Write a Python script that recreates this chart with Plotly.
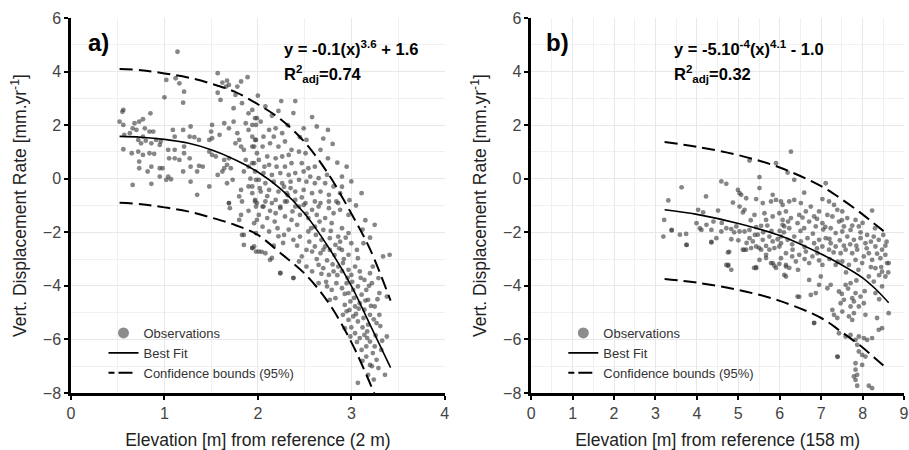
import plotly.graph_objects as go

# ---------------- data: panel a ----------------
obs_a_pts = [
    (1.14, 4.74), (1.57, 3.94), (1.67, 3.66), (1.62, 3.59), (1.69, 3.5), (1.78, 3.44), (1.89, 3.79), (1.82, 3.63), (1.66, 3.44),
    (1.02, 3.69), (1.12, 3.75), (1.16, 3.56), (1.21, 3.25), (1.0, 3.04), (1.2, 2.84),
    (1.57, 3.21), (1.6, 2.94), (1.76, 3.13), (1.83, 2.82), (1.94, 2.57), (1.74, 2.63),
    (0.56, 2.57), (0.55, 2.5), (0.85, 2.44), (0.52, 2.13), (0.56, 2.01), (0.68, 2.07), (0.77, 2.22), (0.73, 2.13),
    (0.66, 1.88), (0.7, 1.82), (0.79, 1.88), (0.84, 1.76), (0.88, 1.76),
    (0.57, 1.64), (0.63, 1.7), (0.77, 1.57), (0.72, 1.45), (0.75, 1.32), (0.8, 1.42), (0.86, 1.32), (0.91, 1.45), (0.96, 1.39), (0.95, 1.26),
    (0.56, 1.1), (0.65, 0.95), (0.72, 1.01), (0.77, 0.89), (0.84, 0.95), (0.89, 0.93), (0.73, 0.64), (0.73, 0.39), (0.86, 0.45),
    (0.82, 0.27), (0.95, 0.39), (0.98, 0.39), (0.95, 0.08), (1.04, 0.08), (1.02, -0.04), (1.07, -0.02), (0.66, -0.23), (0.86, -0.19),
    (1.09, 1.82), (1.11, 1.57), (1.2, 1.82), (1.28, 1.95), (1.27, 1.57), (1.32, 1.55), (1.37, 1.45),
    (1.04, 1.08), (1.11, 1.08), (1.21, 1.2), (1.21, 0.95), (1.11, 0.76), (1.16, 0.7), (1.27, 0.76), (1.05, 0.76),
    (1.28, 0.45), (1.37, 0.48), (1.41, 0.45), (1.2, 0.27), (1.35, 0.27), (1.28, -0.11), (1.35, -0.6),
    (1.48, 1.45), (1.51, 1.51), (1.5, 1.76), (1.51, 2.01), (1.59, 1.64), (1.48, 1.01), (1.51, 0.89), (1.55, 0.83), (1.48, -0.29),
    (1.57, 0.14), (1.62, 0.27), (1.64, 0.39), (1.67, 0.52), (1.69, 0.76), (1.64, 0.7), (1.71, 0.39),
    (1.64, 2.07), (1.69, 1.88), (1.74, 2.13), (1.78, 1.7), (1.8, 1.45), (1.76, 1.32), (1.82, 1.2), (1.85, 1.08), (1.87, 2.07),
    (1.9, 1.82), (1.94, 1.57), (1.98, 1.45), (1.94, 1.2), (1.99, 0.95), (1.98, 2.01), (1.99, 2.26),
    (1.67, -0.17), (1.73, -0.04), (1.82, -0.42), (1.9, -0.29), (1.98, -0.04), (1.69, -0.91), (1.8, -0.66), (1.83, -0.85),
    (1.94, -0.54), (1.99, -0.91), (1.87, 0.7), (1.9, 0.45), (1.96, 0.58), (1.85, 0.27),
    (2.4, 2.9), (2.22, 2.53), (2.49, 1.88), (2.63, 1.95), (2.75, 1.82),
    (1.9, 2.44), (1.97, 2.26), (1.94, 2.01), (2.03, 2.13), (2.12, 1.82), (2.19, 1.88), (2.26, 1.7), (2.17, 1.57), (2.06, 1.57),
    (1.97, 1.45), (1.96, 1.2), (2.05, 1.2), (2.13, 1.32), (2.22, 1.2), (2.29, 1.39), (2.36, 1.08), (2.44, 1.01), (2.51, 0.95),
    (2.33, 0.89), (2.26, 0.83), (2.19, 0.76), (2.1, 0.83), (2.01, 0.7), (1.94, 0.58), (2.12, 0.52), (2.2, 0.45), (2.29, 0.45),
    (2.36, 0.58), (2.47, 0.58), (2.54, 0.39), (2.61, 0.45), (2.67, 1.08), (2.75, 0.76),
    (1.97, 0.27), (2.06, 0.21), (2.15, 0.14), (2.24, 0.21), (2.33, 0.14), (2.4, 0.21), (2.49, 0.27), (2.56, 0.08), (2.65, 0.02),
    (2.74, 0.14), (2.72, -0.17), (2.61, -0.17), (2.52, -0.11), (2.44, -0.04), (2.35, -0.11), (2.26, -0.17), (2.17, -0.11),
    (2.08, -0.17), (2.01, -0.04),
    (1.94, -0.29), (2.03, -0.48), (2.12, -0.42), (2.22, -0.48), (2.31, -0.54), (2.4, -0.48), (2.49, -0.42), (2.58, -0.54),
    (2.67, -0.48), (2.76, -0.6), (2.81, -0.29), (2.9, 0.08), (2.88, -0.54), (2.76, -0.85), (2.86, -0.91), (3.11, -0.54),
    (1.97, -0.79), (2.08, -0.85), (2.19, -0.79), (2.29, -0.85), (2.4, -0.79), (2.51, -0.91), (2.61, -0.85), (2.65, -1.04),
    (2.44, -1.04), (2.24, -1.04), (2.05, -1.04),
    (1.69, -0.91), (1.7, -1.1), (1.82, -1.35), (1.8, -1.54), (1.85, -2.1), (1.85, -2.47), (1.94, -2.59), (1.98, -2.72),
    (1.98, -2.03), (1.98, -1.04), (1.99, -1.54),
    (1.97, -0.85), (2.06, -1.04), (2.15, -0.91), (2.24, -1.1), (2.31, -0.85), (2.4, -1.04), (2.49, -0.98), (2.58, -1.16),
    (2.67, -0.91), (2.76, -1.1), (2.84, -0.85), (2.88, -1.16), (2.97, -1.35), (2.01, -1.35), (2.1, -1.47), (2.19, -1.29),
    (2.29, -1.41), (2.36, -1.54), (2.45, -1.35), (2.54, -1.47), (2.63, -1.35), (2.72, -1.47), (2.81, -1.29), (3.25, -1.72),
    (1.96, -1.66), (2.05, -1.79), (2.12, -1.97), (2.21, -1.85), (2.28, -2.1), (2.38, -2.28), (2.45, -2.16), (2.54, -1.97),
    (2.61, -1.79), (2.7, -1.91), (2.79, -1.66), (2.9, -1.85), (2.97, -2.03), (2.86, -2.16), (2.77, -2.22), (2.68, -2.28),
    (1.96, -2.53), (2.01, -2.72), (2.08, -2.78), (2.13, -3.03), (2.24, -3.53), (2.38, -3.71), (2.44, -3.09), (2.47, -2.9),
    (2.52, -2.66), (2.58, -2.72), (2.61, -2.53), (2.67, -2.78), (2.72, -2.53), (2.77, -2.66), (2.83, -2.47), (2.9, -2.66),
    (2.97, -2.84), (3.0, -2.41), (3.06, -2.66), (3.07, -2.97), (3.13, -2.41), (3.23, -3.28), (3.41, -2.84), (3.34, -2.9),
    (2.52, -3.28), (2.58, -3.46), (2.65, -3.22), (2.7, -3.34), (2.76, -3.59), (2.81, -3.46), (2.86, -3.28), (2.91, -3.15),
    (2.97, -3.4), (3.0, -3.59), (3.04, -3.28), (3.09, -3.46), (3.14, -3.78), (3.2, -3.53), (3.22, -3.9), (3.29, -3.71),
    (3.3, -4.27), (3.38, -4.4),
    (2.65, -3.9), (2.74, -4.02), (2.79, -4.15), (2.84, -3.9), (2.9, -4.09), (2.95, -3.9), (2.97, -4.27), (3.02, -4.15),
    (3.07, -4.02), (3.11, -4.33), (3.16, -4.15), (3.18, -4.52),
    (2.77, -4.52), (2.83, -4.46), (2.93, -4.71), (2.99, -4.58), (3.04, -4.77), (3.09, -4.65), (3.14, -4.89), (3.2, -5.08),
    (3.25, -4.77), (3.3, -5.08), (3.27, -5.39), (3.38, -5.89),
    (2.91, -5.08), (2.97, -5.27), (3.02, -5.14), (3.07, -5.33), (3.13, -5.2), (3.18, -5.45), (2.93, -5.58), (2.99, -5.89),
    (3.04, -5.77), (3.09, -5.95), (3.14, -5.83), (3.2, -6.08), (3.25, -6.26), (3.16, -6.26), (3.11, -6.39), (3.23, -6.51),
    (3.16, -6.64), (3.27, -6.76), (3.2, -6.95), (3.36, -7.32), (3.18, -7.32), (3.29, -7.07), (3.07, -7.62), (3.32, -6.39),
    (1.83, -2.1), (1.94, -2.58), (2.04, -2.73), (2.15, -2.96), (2.24, -3.52), (2.38, -3.7),
    (2.32, -0.62), (2.37, -1.22), (2.42, -1.72), (2.47, -0.7), (2.52, -1.3), (2.57, -1.85), (2.42, -2.5), (2.55, -2.35),
    (2.33, -1.9), (2.28, -0.3), (2.35, -0.35),
    (2.62, -2.1), (2.66, -1.6), (2.7, -2.65), (2.74, -3.05), (2.78, -1.95), (2.82, -2.85), (2.85, -3.6), (2.88, -2.35),
    (2.92, -3.0), (2.63, -3.0), (2.68, -3.55), (2.73, -3.85), (2.8, -3.2), (2.87, -2.6), (2.9, -3.45), (2.94, -2.2), (2.96, -3.7),
    (2.93, -4.3), (2.98, -4.9), (3.01, -3.85), (3.03, -4.45), (3.05, -5.05), (3.08, -4.85), (3.1, -3.7), (3.12, -5.55),
    (3.15, -4.55), (3.17, -5.7), (3.19, -4.0), (3.21, -4.75), (3.24, -5.25), (3.26, -5.85), (3.28, -4.5), (3.31, -5.5),
    (3.33, -6.05), (3.06, -6.1), (3.12, -6.8), (3.22, -7.0), (3.24, -7.5), (3.17, -5.95), (3.0, -5.55), (2.95, -4.95),
    (2.0, 3.1), (2.08, 2.7), (2.15, 2.35), (2.25, 2.9), (2.32, 2.0), (2.38, 2.45), (2.45, 1.55), (2.52, 1.45), (2.58, 2.3),
    (2.7, 1.5), (2.8, 1.3), (2.85, 0.6), (2.95, 0.45), (3.0, -0.1), (2.9, -0.3), (3.05, -1.0), (2.98, -0.8), (3.15, -1.55),
    (3.2, -2.2), (3.12, -1.9),
    (1.9, -1.2), (1.92, 0.0), (2.02, -0.35), (2.07, 0.45), (2.1, -0.65), (2.13, -1.2), (2.18, -1.6), (2.22, -2.15),
    (2.27, -2.4), (2.17, -2.5),
]

fit_a_x = [0.52, 0.75, 1.0, 1.25, 1.5, 1.75, 2.0, 2.25, 2.5, 2.75, 3.0, 3.2, 3.42]
fit_a_y = [1.58, 1.55, 1.47, 1.33, 1.08, 0.72, 0.25, -0.4, -1.3, -2.53, -4.0, -5.45, -7.05]
up_a_x = [0.52, 0.75, 1.0, 1.25, 1.5, 1.75, 2.0, 2.25, 2.5, 2.75, 3.0, 3.2, 3.42]
up_a_y = [4.1, 4.05, 3.93, 3.78, 3.55, 3.25, 2.78, 2.2, 1.37, 0.2, -1.3, -2.63, -4.55]
lo_a_x = [0.52, 0.75, 1.0, 1.25, 1.5, 1.75, 2.0, 2.25, 2.5, 2.75, 3.0, 3.25]
lo_a_y = [-0.9, -0.95, -1.07, -1.22, -1.45, -1.72, -2.1, -2.8, -3.54, -4.6, -6.1, -8.05]

# ---------------- data: panel b ----------------
obs_b_pts = [
    (5.27, 0.68), (5.51, 0.06), (5.51, -0.35), (4.59, -0.1), (4.71, -0.19), (3.63, -0.32), (4.99, -0.42), (5.03, -0.54),
    (5.07, -0.6), (4.22, -0.66), (3.31, -0.81), (4.87, -0.89), (5.19, -0.73), (5.43, -0.76), (5.59, -0.91), (5.83, -0.6),
    (5.79, -0.85), (5.91, -0.79), (6.03, -0.85),
    (4.03, -1.16), (4.15, -1.26), (4.51, -1.19), (5.03, -1.04), (5.15, -1.16), (5.11, -1.26), (5.39, -1.35), (5.63, -1.29),
    (5.67, -1.54), (5.83, -1.41), (6.07, -1.54), (6.11, -1.78),
    (3.21, -1.54), (3.39, -1.93), (3.59, -2.09), (3.74, -2.06), (3.75, -2.47), (3.19, -2.16), (3.99, -1.66), (4.23, -1.72),
    (4.07, -1.85), (4.11, -1.91), (4.35, -1.91), (4.59, -1.97), (4.71, -1.85), (4.83, -1.88), (4.95, -1.78), (5.03, -1.97),
    (5.15, -1.97), (5.27, -1.91), (5.43, -1.81), (5.55, -1.76), (4.47, -2.22), (4.35, -2.38), (4.83, -2.26), (5.27, -2.22),
    (5.35, -2.34), (5.47, -2.09), (5.59, -2.28), (5.75, -2.16), (5.83, -2.34), (5.95, -2.26), (6.03, -2.41), (5.19, -2.65),
    (5.11, -2.65), (5.31, -2.59), (5.43, -2.53), (5.55, -2.65), (5.67, -2.51), (5.75, -2.65), (5.87, -2.59), (4.75, -2.75),
    (4.75, -3.25), (5.43, -3.34), (5.83, -3.15), (6.03, -2.97), (6.15, -3.28), (5.67, -2.84),
    (6.27, 1.01), (5.91, 0.58), (6.19, 0.23), (6.35, -0.04), (7.11, -0.17), (8.23, -1.19), (6.59, -0.52), (6.23, -0.85),
    (6.07, -0.98), (6.35, -0.79), (6.51, -0.91), (6.75, -1.04), (7.03, -0.76), (7.19, -0.85), (7.31, -0.98), (7.39, -1.16),
    (7.51, -1.22), (7.63, -1.47), (7.83, -1.54), (5.99, -1.29), (6.15, -1.22), (6.27, -1.47), (6.47, -1.35), (6.63, -1.22),
    (6.83, -1.41), (6.95, -1.22), (7.15, -1.35), (7.27, -1.41), (7.43, -1.6), (7.55, -1.78), (7.71, -1.91), (7.91, -1.78),
    (8.11, -2.1), (8.27, -2.16), (8.39, -2.28),
    (6.07, -1.72), (6.23, -1.85), (6.43, -1.66), (6.59, -1.85), (6.71, -1.6), (6.87, -1.78), (7.03, -1.66), (7.23, -1.85),
    (7.35, -2.03), (7.51, -1.97), (7.63, -2.16), (7.79, -2.28), (7.95, -2.22), (8.07, -2.41), (8.31, -2.53), (8.47, -2.65),
    (8.55, -2.84), (8.43, -2.97), (8.63, -3.15),
    (6.03, -2.16), (6.19, -2.28), (6.35, -2.16), (6.51, -2.34), (6.67, -2.22), (6.83, -2.41), (6.95, -2.28), (7.11, -2.22),
    (7.23, -2.41), (7.03, -2.53), (7.19, -2.65), (7.35, -2.53), (7.47, -2.78), (7.59, -2.65), (7.75, -2.78), (7.87, -2.65),
    (8.03, -2.9), (8.15, -2.78), (8.23, -3.03), (7.99, -3.15), (7.83, -3.03), (7.67, -3.22), (7.51, -3.09), (7.35, -3.22),
    (5.99, -2.53), (6.15, -2.78), (6.31, -2.65), (6.47, -2.84), (6.63, -2.72), (6.79, -2.9), (6.91, -2.78), (6.71, -3.15),
    (6.39, -3.09), (6.15, -3.22), (7.03, -3.22),
    (6.15, -3.65), (6.43, -4.4), (6.71, -3.78), (6.75, -4.34), (6.87, -4.27), (6.95, -3.96), (6.99, -3.65), (7.15, -4.09),
    (7.23, -3.96), (7.43, -4.21), (7.47, -4.65), (7.55, -4.52), (7.59, -3.96), (7.71, -3.9), (7.75, -4.46), (7.79, -4.58),
    (7.83, -4.27), (7.71, -4.77), (7.91, -4.77), (7.95, -4.4), (8.03, -4.65), (8.15, -3.65), (8.27, -3.84), (8.31, -4.27),
    (8.47, -4.02), (8.55, -3.65), (8.31, -3.34), (8.47, -3.47), (8.59, -3.15),
    (6.83, -5.39), (7.27, -4.9), (7.31, -5.08), (7.39, -5.2), (7.51, -4.96), (7.67, -5.14), (7.75, -5.27), (7.79, -5.02),
    (8.07, -5.08), (8.35, -5.2), (8.63, -5.02), (8.39, -5.64), (8.47, -5.58),
    (7.43, -5.77), (7.59, -5.89), (7.71, -5.83), (7.83, -6.02), (7.91, -5.89), (8.03, -5.95), (8.11, -6.02), (8.23, -5.95),
    (7.87, -6.2), (7.91, -6.45), (7.99, -6.58), (8.07, -6.64),
    (7.39, -6.64), (7.83, -6.89), (7.99, -6.95), (7.83, -7.13), (7.87, -7.32), (7.83, -7.51), (7.87, -7.73), (8.15, -7.73),
    (8.23, -7.82), (7.79, -7.38),
    (4.71, -3.22), (4.83, -3.4), (5.43, -3.3), (5.51, -3.03), (5.79, -3.15), (5.87, -3.25), (5.99, -3.18), (6.11, -3.59),
    (3.75, -2.47), (3.39, -1.91), (4.35, -2.36), (4.78, -2.73), (4.76, -3.22), (5.38, -3.33), (6.47, -4.41), (6.83, -5.38),
    (7.4, -6.65), (5.14, -2.66), (5.5, -2.58), (5.67, -2.96), (5.91, -3.33), (6.23, -3.33), (6.44, -3.4),
    (6.1, -2.0), (6.3, -2.45), (6.5, -1.95), (6.6, -2.55), (6.8, -2.05), (6.9, -2.6), (7.05, -1.9), (7.2, -2.25), (7.3, -2.75),
    (7.45, -2.3), (7.55, -2.5), (7.7, -2.45), (7.85, -2.5), (7.95, -2.0), (8.1, -2.6), (8.2, -2.35), (8.35, -2.8), (8.45, -3.3),
    (8.55, -2.5), (8.62, -3.5), (8.4, -3.6), (8.2, -3.3), (7.9, -3.4), (7.6, -3.5), (7.4, -3.1), (7.2, -3.0), (6.95, -3.05),
    (6.6, -3.0), (6.3, -2.9), (6.0, -1.95), (5.8, -1.95), (5.6, -2.0), (5.4, -2.1), (5.2, -2.4), (5.0, -2.3), (4.9, -2.0),
    (4.6, -1.65), (4.4, -1.6), (5.3, -1.55), (5.7, -1.75), (6.2, -1.6), (6.55, -1.45), (6.9, -1.5), (7.1, -1.8), (7.5, -1.55),
    (7.75, -1.75), (8.0, -1.65), (8.3, -1.85), (8.5, -2.1), (8.58, -2.35), (7.65, -4.1), (7.85, -3.8), (8.05, -4.2),
    (8.4, -4.5), (7.5, -4.3),
]

fit_b_x = [3.22, 4.0, 5.0, 6.0, 7.0, 7.5, 8.0, 8.3, 8.63]
fit_b_y = [-1.16, -1.33, -1.67, -2.12, -2.81, -3.22, -3.7, -4.1, -4.63]
up_b_x = [3.22, 4.0, 5.0, 6.0, 7.0, 7.5, 8.0, 8.3, 8.6]
up_b_y = [1.37, 1.19, 0.88, 0.42, -0.28, -0.77, -1.33, -1.7, -2.07]
lo_b_x = [3.22, 4.0, 5.0, 6.0, 7.0, 7.5, 8.0, 8.3, 8.6]
lo_b_y = [-3.74, -3.88, -4.15, -4.56, -5.2, -5.73, -6.3, -6.7, -7.1]

x_title_a = "Elevation [m] from reference (2 m)"
x_title_b = "Elevation [m] from reference (158 m)"
y_title = "Vert. Displacement Rate [mm.yr<sup>-1</sup>]"
eq_a = "<b>y = -0.1(x)<sup>3.6</sup> + 1.6</b>"
r2_a = "<b>R<sup>2</sup><sub>adj</sub>=0.74</b>"
eq_b = "<b>y = -5.10<sup>-4</sup>(x)<sup>4.1</sup> - 1.0</b>"
r2_b = "<b>R<sup>2</sup><sub>adj</sub>=0.32</b>"

FONT = "Liberation Sans, Arial, sans-serif"
PT_COLOR = "rgba(60,60,60,0.62)"
DASH = "13px,6px"

fig = go.Figure()


def add_panel(pts, fx, fy, ux, uy, lx, ly, xa, ya, leg):
    fig.add_trace(go.Scatter(x=[p[0] for p in pts], y=[p[1] for p in pts], mode="markers",
                             marker=dict(size=4.8, color=PT_COLOR, line=dict(width=0)),
                             xaxis=xa, yaxis=ya, showlegend=False, hoverinfo="x+y"))
    fig.add_trace(go.Scatter(x=ux, y=uy, mode="lines", line=dict(color="black", width=2, dash=DASH, shape="spline"),
                             xaxis=xa, yaxis=ya, showlegend=False))
    fig.add_trace(go.Scatter(x=lx, y=ly, mode="lines", line=dict(color="black", width=2, dash=DASH, shape="spline"),
                             xaxis=xa, yaxis=ya, showlegend=False))
    fig.add_trace(go.Scatter(x=fx, y=fy, mode="lines", line=dict(color="black", width=1.6, shape="spline"),
                             xaxis=xa, yaxis=ya, showlegend=False))
    # legend entries
    fig.add_trace(go.Scatter(x=[None], y=[None], mode="markers", name="Observations",
                             marker=dict(size=11, color="rgb(140,140,140)"), xaxis=xa, yaxis=ya, legend=leg))
    fig.add_trace(go.Scatter(x=[None], y=[None], mode="lines", name="Best Fit",
                             line=dict(color="black", width=1.6), xaxis=xa, yaxis=ya, legend=leg))
    fig.add_trace(go.Scatter(x=[None], y=[None], mode="lines", name="Confidence bounds (95%)",
                             line=dict(color="black", width=2, dash="6px,4px,14px"), xaxis=xa, yaxis=ya, legend=leg))


add_panel(obs_a_pts, fit_a_x, fit_a_y, up_a_x, up_a_y, lo_a_x, lo_a_y, "x", "y", "legend")
add_panel(obs_b_pts, fit_b_x, fit_b_y, up_b_x, up_b_y, lo_b_x, lo_b_y, "x2", "y2", "legend2")

axis_common = dict(showline=True, linewidth=2.5, linecolor="black", mirror=False,
                   ticks="outside", ticklen=4, tickwidth=1.5, tickcolor="black",
                   showgrid=True, gridcolor="#e8e8e8", gridwidth=1, zeroline=False,
                   tickfont=dict(size=16, color="#444", family=FONT))

fig.update_layout(
    width=909, height=450,
    margin=dict(l=71, r=0, t=18, b=57),
    plot_bgcolor="white", paper_bgcolor="white",
    font=dict(family=FONT, color="#222"),
    xaxis=dict(domain=[0, 0.4487], range=[0, 4], dtick=1, anchor="y",
               minor=dict(showgrid=True, dtick=0.5, gridcolor="#f0f0f0"),
               title=dict(text=x_title_a, font=dict(size=17.5), standoff=14), **axis_common),
    yaxis=dict(domain=[0, 1], range=[-8, 6], dtick=2, anchor="x",
               minor=dict(showgrid=True, dtick=1, gridcolor="#f0f0f0"),
               title=dict(text=y_title, font=dict(size=17.5), standoff=12), **axis_common),
    xaxis2=dict(domain=[0.5525, 1.0], range=[0, 9], dtick=1, anchor="y2", ticklabeloverflow="allow",
                minor=dict(showgrid=True, dtick=0.5, gridcolor="#f0f0f0"),
                title=dict(text=x_title_b, font=dict(size=17.5), standoff=14), **axis_common),
    yaxis2=dict(domain=[0, 1], range=[-8, 6], dtick=2, anchor="x2",
                minor=dict(showgrid=True, dtick=1, gridcolor="#f0f0f0"),
                title=dict(text=y_title, font=dict(size=17.5), standoff=12), **axis_common),
    legend=dict(x=0.039, y=0.2, xanchor="left", yanchor="top", bgcolor="rgba(0,0,0,0)",
                font=dict(size=13, color="#333"), tracegroupgap=0),
    legend2=dict(x=0.591, y=0.2, xanchor="left", yanchor="top", bgcolor="rgba(0,0,0,0)",
                 font=dict(size=13, color="#333"), tracegroupgap=0),
    annotations=[
        dict(text="<b>a)</b>", x=0.16, y=5.1, xref="x", yref="y", xanchor="left", yanchor="middle",
             showarrow=False, font=dict(size=24, color="black")),
        dict(text=eq_a, x=2.26, y=4.88, xref="x", yref="y", xanchor="left", yanchor="middle",
             showarrow=False, font=dict(size=16.5, color="black")),
        dict(text=r2_a, x=2.26, y=3.91, xref="x", yref="y", xanchor="left", yanchor="middle",
             showarrow=False, font=dict(size=16.5, color="black")),
        dict(text="<b>b)</b>", x=0.31, y=5.1, xref="x2", yref="y2", xanchor="left", yanchor="middle",
             showarrow=False, font=dict(size=24, color="black")),
        dict(text=eq_b, x=3.39, y=4.88, xref="x2", yref="y2", xanchor="left", yanchor="middle",
             showarrow=False, font=dict(size=16.5, color="black")),
        dict(text=r2_b, x=3.39, y=3.91, xref="x2", yref="y2", xanchor="left", yanchor="middle",
             showarrow=False, font=dict(size=16.5, color="black")),
    ],
)

# remove the browser's default 8px body margin so the 909x450 figure fills the window exactly
fig.write_html("out.html", config={"displayModeBar": False},
               post_script="document.body.style.margin='0';document.body.style.overflow='hidden';")
